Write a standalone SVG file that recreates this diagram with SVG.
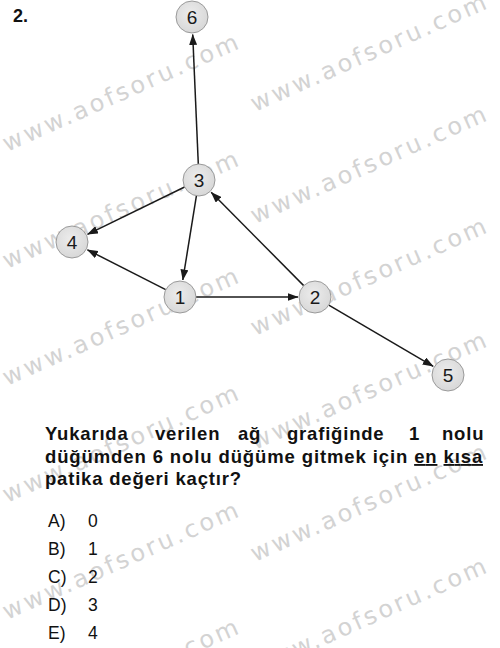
<svg xmlns="http://www.w3.org/2000/svg" width="500" height="648" viewBox="0 0 500 648">
  <defs>
    <marker id="arr" viewBox="0 0 11 8" refX="10.5" refY="4" markerWidth="11" markerHeight="8" markerUnits="userSpaceOnUse" orient="auto">
      <path d="M0,0 L11,4 L0,8 z" fill="#1a1a1a"/>
    </marker>
    <radialGradient id="nodefill" cx="0.45" cy="0.4" r="0.65">
      <stop offset="0" stop-color="#ececec"/>
      <stop offset="1" stop-color="#d6d6d6"/>
    </radialGradient>
  </defs>
  <style>
    .wm { font-family: "DejaVu Sans", Verdana, sans-serif; font-size: 24px; letter-spacing: 3px; fill: #d3d3d3; }
    .node circle { fill: url(#nodefill); stroke: #9a9a9a; stroke-width: 1; }
    .node text { font-family: "Liberation Sans", Arial, sans-serif; font-size: 19px; fill: #1a1a1a; text-anchor: middle; }
    .edge { stroke: #1a1a1a; stroke-width: 1.5; fill: none; marker-end: url(#arr); }
    .q { font-family: "Liberation Sans", Arial, sans-serif; font-size: 18.5px; font-weight: bold; fill: #111; letter-spacing: 0.8px; }
    .opt { font-family: "Liberation Sans", Arial, sans-serif; font-size: 17.5px; fill: #111; }
  </style>
  <rect width="500" height="648" fill="#ffffff"/>

  <g id="watermarks">
    <text class="wm" transform="translate(7,152) rotate(-24)">www.aofsoru.com</text>
    <text class="wm" transform="translate(7,269) rotate(-24)">www.aofsoru.com</text>
    <text class="wm" transform="translate(7,386) rotate(-24)">www.aofsoru.com</text>
    <text class="wm" transform="translate(7,503) rotate(-24)">www.aofsoru.com</text>
    <text class="wm" transform="translate(7,620) rotate(-24)">www.aofsoru.com</text>
    <text class="wm" transform="translate(7,737) rotate(-24)">www.aofsoru.com</text>
    <text class="wm" transform="translate(255,112) rotate(-24)">www.aofsoru.com</text>
    <text class="wm" transform="translate(255,224) rotate(-24)">www.aofsoru.com</text>
    <text class="wm" transform="translate(255,336) rotate(-24)">www.aofsoru.com</text>
    <text class="wm" transform="translate(255,450) rotate(-24)">www.aofsoru.com</text>
    <text class="wm" transform="translate(255,562) rotate(-24)">www.aofsoru.com</text>
    <text class="wm" transform="translate(255,676) rotate(-24)">www.aofsoru.com</text>
  </g>

  <text x="13" y="22" style="font-family:'Liberation Sans',Arial,sans-serif;font-size:18px;font-weight:bold;fill:#111">2.</text>

  <g id="connectors">
    <line class="edge" x1="198.3" y1="164" x2="192.7" y2="34.5"/>
    <line class="edge" x1="184.6" y1="187" x2="87.5" y2="234.4"/>
    <line class="edge" x1="196.4" y1="195.8" x2="182.8" y2="280"/>
    <line class="edge" x1="165.7" y1="289.7" x2="87.4" y2="249.8"/>
    <line class="edge" x1="196" y1="297" x2="298" y2="297"/>
    <line class="edge" x1="303.7" y1="285.6" x2="211.2" y2="192.3"/>
    <line class="edge" x1="328.8" y1="305.1" x2="433.2" y2="366.3"/>
  </g>

  <g id="node-6" class="node"><circle cx="192" cy="17" r="16"/><text x="192" y="24">6</text></g>
  <g id="node-3" class="node"><circle cx="199" cy="180" r="16"/><text x="199" y="187">3</text></g>
  <g id="node-4" class="node"><circle cx="72" cy="242" r="16"/><text x="72" y="249">4</text></g>
  <g id="node-1" class="node"><circle cx="180" cy="297" r="16"/><text x="180" y="304">1</text></g>
  <g id="node-2" class="node"><circle cx="315" cy="297" r="16"/><text x="315" y="304">2</text></g>
  <g id="node-5" class="node"><circle cx="448" cy="375" r="16"/><text x="448" y="382">5</text></g>

  <g id="question">
    <text class="q" y="440"><tspan x="45">Yukarıda</tspan><tspan x="155">verilen</tspan><tspan x="238">ağ</tspan><tspan x="287">grafiğinde</tspan><tspan x="409">1</tspan><tspan x="442">nolu</tspan></text>
    <text class="q" x="45" y="463" textLength="438" lengthAdjust="spacing">düğümden 6 nolu düğüme gitmek için <tspan text-decoration="underline">en</tspan> <tspan text-decoration="underline">kısa</tspan></text>
    <text class="q" x="45" y="485">patika değeri kaçtır?</text>
  </g>

  <g id="options">
    <text class="opt" y="527"><tspan x="48">A)</tspan><tspan x="88">0</tspan></text>
    <text class="opt" y="555"><tspan x="48">B)</tspan><tspan x="88">1</tspan></text>
    <text class="opt" y="583"><tspan x="48">C)</tspan><tspan x="88">2</tspan></text>
    <text class="opt" y="611"><tspan x="48">D)</tspan><tspan x="88">3</tspan></text>
    <text class="opt" y="639"><tspan x="48">E)</tspan><tspan x="88">4</tspan></text>
  </g>
</svg>
